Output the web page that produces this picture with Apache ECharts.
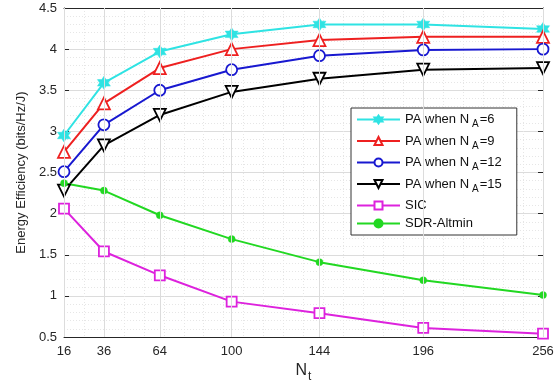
<!DOCTYPE html>
<html>
<head>
<meta charset="utf-8">
<script src="https://cdn.jsdelivr.net/npm/echarts@6/dist/echarts.min.js"></script>
<style>html,body{margin:0;padding:0;background:#fff;}#c{width:560px;height:384px;}</style>
</head>
<body>
<div id="c"></div>
<script>
const nt = [16, 36, 64, 100, 144, 196, 256];
const paNA6 = [2.95, 3.59, 3.97, 4.18, 4.30, 4.30, 4.245];
const paNA9 = [2.75, 3.34, 3.77, 4.00, 4.11, 4.15, 4.15];
const paNA12 = [2.51, 3.08, 3.50, 3.75, 3.92, 3.99, 4.00];
const paNA15 = [2.28, 2.83, 3.20, 3.48, 3.64, 3.75, 3.77];
const sic = [2.06, 1.54, 1.25, 0.93, 0.79, 0.61, 0.54];
const sdr = [2.37, 2.28, 1.98, 1.69, 1.41, 1.19, 1.01];
const yTicks = [0.5, 1, 1.5, 2, 2.5, 3, 3.5, 4, 4.5];

const star6 = 'path://M0,-10 L2.9,-5 L8.66,-5 L5.77,0 L8.66,5 L2.9,5 L0,10 L-2.9,5 L-8.66,5 L-5.77,0 L-8.66,-5 L-2.9,-5 Z';
const pairs = v => nt.map((x, i) => [x, v[i]]);
const axisColor = '#262626';
const font = 'Liberation Sans, Arial, sans-serif';

function mk(name, data, color, symbol, size, filled, rotate) {
  return {
    name, type: 'line', data: pairs(data), xAxisIndex: 0, yAxisIndex: 0,
    symbol, symbolSize: size, symbolRotate: rotate || 0, showSymbol: true,
    lineStyle: { color, width: 2 },
    itemStyle: { color: filled ? color : '#fff', borderColor: color, borderWidth: filled ? 0.5 : 1.8 },
    emphasis: { disabled: true }, animation: false
  };
}

const chart = echarts.init(document.getElementById('c'), null, { renderer: 'canvas' });
const series = [
  mk('PA when N{sub|A}=6', paNA6, '#2FE3E3', star6, 13, true),
  mk('PA when N{sub|A}=9', paNA9, '#EE2020', 'triangle', 12, false),
  mk('PA when N{sub|A}=12', paNA12, '#1818D0', 'circle', 11, false),
  mk('PA when N{sub|A}=15', paNA15, '#000000', 'triangle', 12, false, 180),
  mk('SIC', sic, '#DD22DD', 'rect', 10, false),
  mk('SDR-Altmin', sdr, '#22D822', 'circle', 7, true)
];
series[0].markLine = {
  silent: true, symbol: 'none', label: { show: false }, animation: false,
  lineStyle: { color: '#dcdcdc', type: 'solid', width: 1 },
  data: nt.map(v => ({ xAxis: v }))
};

chart.setOption({
  backgroundColor: '#fff',
  animation: false,
  textStyle: { fontFamily: font },
  grid: { left: 64, top: 8, right: 17, bottom: 47, show: false, containLabel: false, outerBoundsMode: 'none' },
  legend: {
    left: 351, top: 108, orient: 'vertical',
    itemWidth: 43, itemHeight: 10, itemGap: 5,
    backgroundColor: '#fff', borderColor: '#333', borderWidth: 1,
    padding: [5, 15, 5, 5],
    textStyle: {
      fontSize: 13, color: '#111', fontFamily: font,
      rich: { sub: { fontSize: 10, padding: [10, 1, 0, 3], color: '#111' } }
    },
    data: series.map(s => s.name)
  },
  xAxis: [{
    type: 'value', min: 16, max: 256,
    name: 'N{sub|t}', nameLocation: 'middle', nameGap: 22,
    nameTextStyle: { fontSize: 16, color: axisColor, fontFamily: font,
      rich: { sub: { fontSize: 12, padding: [12, 0, 0, 1], color: axisColor } } },
    axisLine: { show: true, lineStyle: { color: axisColor, width: 1 } },
    axisTick: { show: true, inside: true, length: 5, customValues: nt, lineStyle: { color: axisColor } },
    axisLabel: { customValues: nt, fontSize: 13, color: axisColor, margin: 8, fontFamily: font },
    splitLine: { show: false }
  }, {
    type: 'value', min: 16, max: 256, interval: 10, position: 'bottom',
    axisLine: { show: false }, axisTick: { show: false }, axisLabel: { show: false },
    splitLine: { show: true, lineStyle: { color: '#e6e6e6', type: [1, 2], width: 1 } }
  }, {
    type: 'value', min: 16, max: 256, position: 'top',
    axisLine: { show: true, lineStyle: { color: axisColor } },
    axisTick: { show: true, inside: true, length: 5, customValues: nt, lineStyle: { color: axisColor } },
    axisLabel: { show: false }, splitLine: { show: false }
  }],
  yAxis: [{
    type: 'value', min: 0.5, max: 4.5, interval: 0.5,
    name: 'Energy Efficiency (bits/Hz/J)', nameLocation: 'middle', nameGap: 34,
    nameTextStyle: { fontSize: 13, color: axisColor, fontFamily: font },
    axisLine: { show: true, lineStyle: { color: axisColor } },
    axisTick: { show: true, inside: true, length: 5, lineStyle: { color: axisColor } },
    axisLabel: { fontSize: 13, color: axisColor, margin: 7, fontFamily: font,
      formatter: v => String(v) },
    splitLine: { show: true, lineStyle: { color: '#dcdcdc', width: 1 } },
    minorTick: { show: true, splitNumber: 5, length: 0 },
    minorSplitLine: { show: true, lineStyle: { color: '#e6e6e6', type: [1, 2] } }
  }, {
    type: 'value', min: 0.5, max: 4.5, interval: 0.5, position: 'right',
    axisLine: { show: true, lineStyle: { color: axisColor } },
    axisTick: { show: true, inside: true, length: 5, lineStyle: { color: axisColor } },
    axisLabel: { show: false }, splitLine: { show: false }
  }],
  series
});
</script>
</body>
</html>
